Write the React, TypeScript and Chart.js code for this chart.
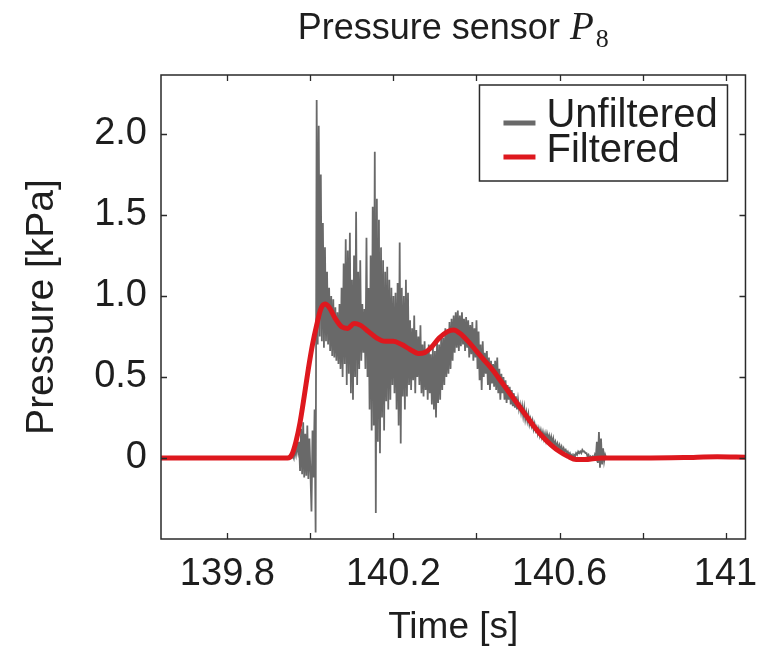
import React, { useEffect, useRef } from 'react';
import { Chart, registerables } from 'chart.js';

Chart.register(...registerables);

const FONT = '"Liberation Sans", Arial, Helvetica, sans-serif';
const SERIF = '"Liberation Serif", "DejaVu Serif", serif';
const TEXT_COLOR = '#1e1e1e';

const titleMain = 'Pressure sensor ';
const titleSymbol = 'P';
const titleSubscript = '8';
const xAxisTitle = 'Time [s]';
const yAxisTitle = 'Pressure [kPa]';
const seriesNames = ['Unfiltered', 'Filtered'];
const seriesColors = ['#696969', 'rgb(222,24,30)'];

const xRange = [139.64, 141.048];
const yRange = [-0.5, 2.364];
const xTickStep = 0.2;
const yTickStep = 0.5;
const xTickLabels = [139.8, 140.2, 140.6, 141];
const yTickValues = [0, 0.5, 1.0, 1.5, 2.0];
const yTickText = ['0', '0.5', '1.0', '1.5', '2.0'];

const filteredTime = [
  139.64, 139.9, 139.945, 139.955, 139.965, 139.975, 139.985, 139.995, 140.005, 140.015,
  140.025, 140.035, 140.045, 140.06, 140.075, 140.09, 140.105, 140.12, 140.14, 140.16,
  140.18, 140.2, 140.22, 140.24, 140.26, 140.275, 140.29, 140.31, 140.33, 140.345,
  140.36, 140.38, 140.4, 140.42, 140.44, 140.46, 140.48, 140.5, 140.52, 140.54,
  140.56, 140.58, 140.6, 140.62, 140.64, 140.66, 140.7, 140.8, 140.9, 140.98, 141.048,
];
const filteredPressure = [
  0, 0, 0.0, 0.02, 0.1, 0.22, 0.38, 0.55, 0.7, 0.82,
  0.92, 0.95, 0.93, 0.86, 0.81, 0.8, 0.83, 0.82, 0.78, 0.74,
  0.72, 0.72, 0.7, 0.67, 0.645, 0.65, 0.68, 0.74, 0.78, 0.79,
  0.77, 0.72, 0.66, 0.6, 0.54, 0.47, 0.4, 0.33, 0.26, 0.19,
  0.13, 0.08, 0.04, 0.01, -0.01, -0.01, 0.0, 0.0, 0.003, 0.008, 0.005,
];

const unfilteredLeadTime = [139.64, 139.95];
const unfilteredLeadPressure = [0, 0];
const unfilteredSampleStart = 139.955;
const unfilteredSampleStep = 0.0025;
const unfilteredPressure = [
  0.0, 0.02, 0.0, 0.05, 0.02, 0.08, 0.04,
  0.1, -0.08, 0.18, -0.1, 0.22, -0.12, 0.15, -0.11, 0.2, -0.13, 0.12, -0.09, -0.33, 0.17, -0.12, 0.3, -0.46,
  2.21, 0.7, 2.05, 0.75, 1.75, 0.72, 1.45, 0.68, 1.3, 0.72, 1.15, 0.7, 1.05, 0.66, 1.0, 0.63, 0.98, 0.62, 0.93, 0.6, 0.9, 0.58,
  0.95, 0.55, 1.05, 0.5, 1.2, 0.58, 1.35, 0.45, 1.28, 0.52, 1.39, 0.4, 1.1, 0.36, 1.25, 0.5, 1.52, 0.45, 1.15, 0.55,
  1.22, 0.6, 0.95, 0.65, 0.92, 0.55, 1.36, 0.5, 1.05, 0.3, 1.25, 0.17, 1.55, 0.2, 1.89, -0.34, 1.6, 0.1, 1.47, 0.03,
  1.3, 0.25, 1.22, 0.17, 1.15, 0.35, 1.18, 0.3, 1.1, 0.36, 1.05, 0.45, 1.0, 0.4, 1.02, 0.3, 1.08, 0.2, 1.33, 0.09,
  1.05, 0.38, 1.0, 0.3, 1.1, 0.38, 1.02, 0.45,
  0.85, 0.42, 0.8, 0.48, 0.88, 0.4, 0.79, 0.5, 0.75, 0.45, 0.82, 0.4, 0.7, 0.38, 0.72, 0.42, 0.66, 0.36, 0.7, 0.4,
  0.64, 0.33, 0.68, 0.3, 0.66, 0.25, 0.72, 0.34, 0.7, 0.36, 0.76, 0.42, 0.74, 0.45, 0.8, 0.5, 0.78, 0.52, 0.84, 0.55,
  0.86, 0.6, 0.88, 0.65, 0.9, 0.68, 0.91,
  0.66, 0.88, 0.69, 0.9, 0.7, 0.86, 0.66, 0.87, 0.68, 0.85, 0.62, 0.82, 0.64, 0.84, 0.6, 0.8, 0.62, 0.85, 0.55, 0.78,
  0.48, 0.7, 0.42, 0.72, 0.5, 0.65, 0.52, 0.66, 0.45, 0.62, 0.42, 0.6, 0.46, 0.58, 0.44, 0.6, 0.42, 0.62, 0.4, 0.55,
  0.36, 0.52, 0.4, 0.5, 0.36, 0.48, 0.34, 0.45, 0.36, 0.44, 0.33, 0.42, 0.32, 0.4, 0.31, 0.38, 0.3,
  0.36, 0.3, 0.33, 0.28, 0.32, 0.26, 0.31, 0.24, 0.28, 0.23, 0.27, 0.21, 0.24, 0.2, 0.23, 0.18, 0.21, 0.17, 0.19, 0.15,
  0.18, 0.14, 0.17, 0.13, 0.16, 0.12, 0.15, 0.11, 0.15, 0.12, 0.14, 0.1, 0.13, 0.09, 0.12, 0.08, 0.1, 0.07, 0.09, 0.06,
  0.08, 0.05, 0.07, 0.04, 0.06, 0.04, 0.05, 0.03, 0.04, 0.02, 0.03, 0.01, 0.02, 0.0, 0.02, 0.01, 0.03, 0.02, 0.04, 0.03,
  0.04, 0.03, 0.05, 0.04, 0.04, 0.03, 0.03, 0.01, 0.02, 0.0, 0.01, 0.0, 0.01, 0.0, 0.02, 0.0, 0.1, -0.03, 0.16, -0.06,
  0.12, -0.04, 0.06, -0.02, 0.02, 0.0,
];
const unfilteredTailTime = [140.72, 141.048];
const unfilteredTailPressure = [0, 0.005];

const framePlugin = {
  id: 'matlabFrame',
  afterDatasetsDraw(chart: any) {
    const { ctx, chartArea: a, scales } = chart;
    ctx.save();
    ctx.strokeStyle = '#2a2a2a';
    ctx.lineWidth = 1.5;
    ctx.strokeRect(a.left, a.top, a.right - a.left, a.bottom - a.top);
    const tl = 6;
    ctx.lineWidth = 1.3;
    ctx.beginPath();
    scales.x.ticks.forEach((t: any) => {
      const px = Math.round(scales.x.getPixelForValue(t.value)) + 0.5;
      if (px <= a.left + 2 || px >= a.right - 2) return;
      ctx.moveTo(px, a.bottom);
      ctx.lineTo(px, a.bottom - tl);
      ctx.moveTo(px, a.top);
      ctx.lineTo(px, a.top + tl);
    });
    scales.y.ticks.forEach((t: any) => {
      const py = Math.round(scales.y.getPixelForValue(t.value)) + 0.5;
      if (py <= a.top + 2 || py >= a.bottom - 2) return;
      ctx.moveTo(a.left, py);
      ctx.lineTo(a.left + tl, py);
      ctx.moveTo(a.right, py);
      ctx.lineTo(a.right - tl, py);
    });
    ctx.stroke();
    ctx.restore();
  },
};

const legendPlugin = {
  id: 'boxLegend',
  afterDraw(chart: any) {
    const { ctx, chartArea: a } = chart;
    const right = a.right - 18;
    const left = right - 248;
    const top = a.top + 10;
    const height = 96;
    ctx.save();
    ctx.fillStyle = '#ffffff';
    ctx.fillRect(left, top, right - left, height);
    ctx.strokeStyle = '#2a2a2a';
    ctx.lineWidth = 1.5;
    ctx.strokeRect(left, top, right - left, height);
    ctx.font = `40px ${FONT}`;
    ctx.textBaseline = 'alphabetic';
    ctx.textAlign = 'left';
    chart.data.datasets.forEach((ds: any, i: number) => {
      const ly = top + 38 + i * 34;
      ctx.strokeStyle = ds.borderColor;
      ctx.lineWidth = 5;
      ctx.beginPath();
      ctx.moveTo(left + 24, ly);
      ctx.lineTo(left + 56, ly);
      ctx.stroke();
      ctx.fillStyle = TEXT_COLOR;
      ctx.fillText(ds.label, left + 67, top + 42 + i * 35);
    });
    ctx.restore();
  },
};

const titlePlugin = {
  id: 'mathTitle',
  afterDraw(chart: any) {
    const { ctx, chartArea: a } = chart;
    ctx.save();
    const mainFont = `36px ${FONT}`;
    const symFont = `italic 39px ${SERIF}`;
    const subFont = `26px ${SERIF}`;
    ctx.font = mainFont;
    const w1 = ctx.measureText(titleMain).width;
    ctx.font = symFont;
    const w2 = ctx.measureText(titleSymbol).width;
    ctx.font = subFont;
    const w3 = ctx.measureText(titleSubscript).width;
    const total = w1 + w2 + 2 + w3;
    let x = (a.left + a.right) / 2 - total / 2;
    const base = 39;
    ctx.fillStyle = TEXT_COLOR;
    ctx.textBaseline = 'alphabetic';
    ctx.textAlign = 'left';
    ctx.font = mainFont;
    ctx.fillText(titleMain, x, base);
    x += w1;
    ctx.font = symFont;
    ctx.fillText(titleSymbol, x, base);
    x += w2 + 2;
    ctx.font = subFont;
    ctx.fillText(titleSubscript, x, base + 8);
    ctx.restore();
  },
};

export default function App() {
  const canvasRef = useRef<HTMLCanvasElement | null>(null);

  useEffect(() => {
    if (!canvasRef.current) return;
    const unfilteredPoints = [
      ...unfilteredLeadTime.map((t, i) => ({ x: t, y: unfilteredLeadPressure[i] })),
      ...unfilteredPressure.map((p, i) => ({ x: unfilteredSampleStart + i * unfilteredSampleStep, y: p })),
      ...unfilteredTailTime.map((t, i) => ({ x: t, y: unfilteredTailPressure[i] })),
    ];
    const filteredPoints = filteredTime.map((t, i) => ({ x: t, y: filteredPressure[i] }));

    const chart = new Chart(canvasRef.current, {
      type: 'line',
      data: {
        datasets: [
          {
            label: seriesNames[0],
            data: unfilteredPoints,
            borderColor: seriesColors[0],
            backgroundColor: seriesColors[0],
            borderWidth: 1.8,
            pointRadius: 0,
            tension: 0,
            order: 2,
          },
          {
            label: seriesNames[1],
            data: filteredPoints,
            borderColor: seriesColors[1],
            backgroundColor: seriesColors[1],
            borderWidth: 5,
            pointRadius: 0,
            cubicInterpolationMode: 'monotone',
            order: 1,
          },
        ],
      },
      options: {
        animation: false,
        responsive: false,
        events: [],
        layout: { padding: { left: 0, top: 75, right: 22, bottom: 0 } },
        plugins: {
          legend: { display: false },
          tooltip: { enabled: false },
          title: { display: false },
        },
        scales: {
          x: {
            type: 'linear',
            min: xRange[0],
            max: xRange[1],
            grid: { display: false, drawTicks: false },
            border: { display: false },
            afterFit: (scale: any) => {
              scale.height = 113;
            },
            ticks: {
              stepSize: xTickStep,
              autoSkip: false,
              maxRotation: 0,
              includeBounds: false,
              padding: 13,
              color: TEXT_COLOR,
              font: { family: FONT, size: 38, lineHeight: 1.2 },
              callback: (v: any) => {
                const n = Number(v);
                const hit = xTickLabels.find((l) => Math.abs(l - n) < 1e-6);
                return hit === undefined ? '' : String(hit);
              },
            },
            title: {
              display: true,
              text: xAxisTitle,
              color: TEXT_COLOR,
              font: { family: FONT, size: 37, lineHeight: 1.2 },
              padding: { top: 0, bottom: 2 },
            },
          },
          y: {
            type: 'linear',
            min: yRange[0],
            max: yRange[1],
            grid: { display: false, drawTicks: false },
            border: { display: false },
            afterFit: (scale: any) => {
              scale.width = 161;
            },
            ticks: {
              stepSize: yTickStep,
              autoSkip: false,
              includeBounds: false,
              padding: 14,
              color: TEXT_COLOR,
              font: { family: FONT, size: 38, lineHeight: 1.2 },
              callback: (v: any) => {
                const n = Number(v);
                const idx = yTickValues.findIndex((l) => Math.abs(l - n) < 1e-6);
                return idx < 0 ? '' : yTickText[idx];
              },
            },
            title: {
              display: true,
              text: yAxisTitle,
              color: TEXT_COLOR,
              font: { family: FONT, size: 39, lineHeight: 1.2 },
              padding: { top: 19, bottom: 0 },
            },
          },
        },
      },
      plugins: [framePlugin, legendPlugin, titlePlugin],
    } as any);

    return () => chart.destroy();
  }, []);

  return (
    <div style={{ position: 'absolute', left: 0, top: 0, width: 771, height: 652, background: '#fff' }}>
      <canvas ref={canvasRef} width={771} height={652} style={{ display: 'block' }} />
    </div>
  );
}
